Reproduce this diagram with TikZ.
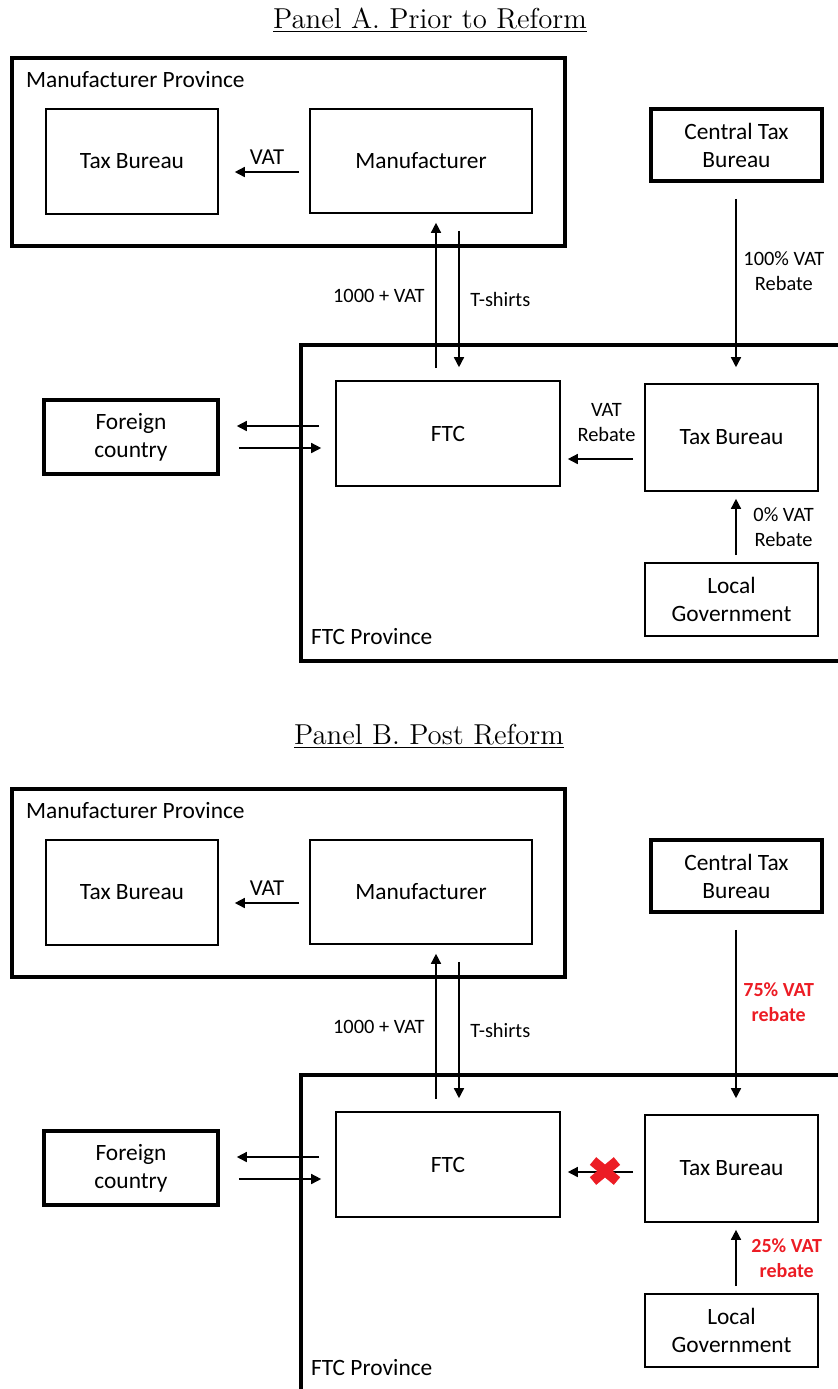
\documentclass[tikz,border=0pt]{standalone}
\usepackage{fontspec}
\newfontfamily\calibri{Carlito}
\usetikzlibrary{arrows.meta}
\definecolor{RebRed}{RGB}{236,28,36}

\begin{document}
\begin{tikzpicture}[x=0.5pt, y=-0.5pt,
    every node/.style={font=\calibri\fontsize{11.7}{14}\selectfont, align=center},
    unit/.style={draw, line width=0.8pt, rectangle},
    heavy/.style={draw, line width=1.8pt, rectangle},
    prov/.style={draw, line width=2.2pt, rectangle},
    flow/.style={font=\calibri\fontsize{10.2}{12.5}\selectfont},
    vatflow/.style={font=\calibri\fontsize{11.4}{14}\selectfont},
    redflow/.style={font=\calibri\bfseries\fontsize{10}{12.5}\selectfont, text=RebRed},
    arr/.style={-{Triangle[length=5pt,width=5pt]}, line width=0.75pt},
    xmark/.style={RebRed, line width=5pt},
    title/.style={font=\fontsize{14.4}{17}\selectfont, anchor=base}
  ]
  \useasboundingbox (0,0) rectangle (838,1389);
  \clip (0,0) rectangle (838,1389);

  % Panel A
  \node[title] (ttlA) at (430,28) {\underline{Panel A. Prior to Reform}};

  \node[prov, minimum width=276.5pt, minimum height=94pt] (mpA) at (288.5,152) {};
  \node[anchor=west] (mpAlbl) at (19,80) {Manufacturer Province};
  \node[unit, minimum width=86pt, minimum height=52.5pt] (tbA) at (132,161.5) {Tax Bureau};
  \node[unit, minimum width=111pt, minimum height=52pt] (mfA) at (421,161) {Manufacturer};
  \node[heavy, minimum width=85.5pt, minimum height=36pt] (ctA) at (736.5,145) {Central Tax\\Bureau};

  \node[prov, minimum width=279.5pt, minimum height=158pt] (fpA) at (580.5,503) {};
  \node[anchor=west] (fpAlbl) at (304,637) {FTC Province};
  \node[unit, minimum width=112pt, minimum height=52.5pt] (ftcA) at (448,433.5) {FTC};
  \node[unit, minimum width=86.5pt, minimum height=53.5pt] (tfA) at (731.5,437.5) {Tax Bureau};
  \node[unit, minimum width=86.5pt, minimum height=36.5pt] (lgA) at (731.5,599.5) {Local\\Government};
  \node[heavy, minimum width=87pt, minimum height=37pt] (fcA) at (131,437) {Foreign\\country};

  \draw[arr] ([shift={(-5pt,-5.5pt)}]mfA.west) -- ([shift={(8pt,-5.25pt)}]tbA.east)
        node[midway,above=0pt,vatflow]{VAT};
  \draw[arr] ([shift={(-6pt,6pt)}]ftcA.north) -- ([shift={(7.5pt,-4.5pt)}]mfA.south)
        node[midway,left=2pt,flow]{1000 + VAT};
  \draw[arr] ([shift={(19pt,-8.5pt)}]mfA.south) -- ([shift={(5.5pt,6.5pt)}]ftcA.north)
        node[midway,right=2pt,flow]{T-shirts};
  \draw[arr] ([shift={(-0.25pt,-8pt)}]ctA.south) -- ([shift={(2.25pt,8pt)}]tfA.north)
        node[pos=0.43,right=0pt,flow]{100\% VAT\\Rebate};
  \draw[arr] ([shift={(-5.5pt,-10.75pt)}]tfA.west) -- ([shift={(3.5pt,-12.75pt)}]ftcA.east)
        node[midway,above=5pt,xshift=3pt,flow]{VAT\\Rebate};
  \draw[arr] ([shift={(2.25pt,3.5pt)}]lgA.north) -- ([shift={(2.25pt,-3.5pt)}]tfA.south)
        node[midway,right=5pt,flow]{0\% VAT\\Rebate};
  \draw[arr] ([shift={(-8pt,3.75pt)}]ftcA.west) -- ([shift={(8.5pt,5.5pt)}]fcA.east);
  \draw[arr] ([shift={(9.5pt,-5.5pt)}]fcA.east) -- ([shift={(-7pt,-7.25pt)}]ftcA.west);

  % Panel B
  \node[title] (ttlB) at (429,744) {\underline{Panel B. Post Reform}};

  \begin{scope}[shift={(0,731)}]
    \node[prov, minimum width=276.5pt, minimum height=94pt] (mpB) at (288.5,152) {};
    \node[anchor=west] (mpBlbl) at (19,80) {Manufacturer Province};
    \node[unit, minimum width=86pt, minimum height=52.5pt] (tbB) at (132,161.5) {Tax Bureau};
    \node[unit, minimum width=111pt, minimum height=52pt] (mfB) at (421,161) {Manufacturer};
    \node[heavy, minimum width=85.5pt, minimum height=36pt] (ctB) at (736.5,145) {Central Tax\\Bureau};

    \node[prov, minimum width=279.5pt, minimum height=158pt] (fpB) at (580.5,502) {};
    \node[anchor=west] (fpBlbl) at (304,637) {FTC Province};
    \node[unit, minimum width=112pt, minimum height=52.5pt] (ftcB) at (448,433.5) {FTC};
    \node[unit, minimum width=86.5pt, minimum height=53.5pt] (tfB) at (731.5,437.5) {Tax Bureau};
    \node[unit, minimum width=86.5pt, minimum height=36.5pt] (lgB) at (731.5,599.5) {Local\\Government};
    \node[heavy, minimum width=87pt, minimum height=37pt] (fcB) at (131,437) {Foreign\\country};

    \draw[arr] ([shift={(-5pt,-5.5pt)}]mfB.west) -- ([shift={(8pt,-5.25pt)}]tbB.east)
          node[midway,above=0pt,vatflow]{VAT};
    \draw[arr] ([shift={(-6pt,6pt)}]ftcB.north) -- ([shift={(7.5pt,-4.5pt)}]mfB.south)
          node[midway,left=2pt,flow]{1000 + VAT};
    \draw[arr] ([shift={(19pt,-8.5pt)}]mfB.south) -- ([shift={(5.5pt,6.5pt)}]ftcB.north)
          node[midway,right=2pt,flow]{T-shirts};
    \draw[arr] ([shift={(-0.25pt,-8pt)}]ctB.south) -- ([shift={(2.25pt,8pt)}]tfB.north)
          node[pos=0.43,right=0pt,redflow]{75\% VAT\\rebate};
    \draw[arr] ([shift={(-5.5pt,-1.75pt)}]tfB.west) -- ([shift={(3.5pt,-3.75pt)}]ftcB.east);
    \draw[arr] ([shift={(2.25pt,3.5pt)}]lgB.north) -- ([shift={(2.25pt,-3.5pt)}]tfB.south)
          node[midway,right=4pt,redflow]{25\% VAT\\rebate};
    \draw[arr] ([shift={(-8pt,3.75pt)}]ftcB.west) -- ([shift={(8.5pt,5.5pt)}]fcB.east);
    \draw[arr] ([shift={(9.5pt,-5.5pt)}]fcB.east) -- ([shift={(-7pt,-7.25pt)}]ftcB.west);

    % rebate blocked
    \coordinate (stopB) at (605,440);
    \draw[xmark] ([shift={(-6pt,-5pt)}]stopB) -- ([shift={(6pt,5pt)}]stopB);
    \draw[xmark] ([shift={(-6pt,5pt)}]stopB) -- ([shift={(6pt,-5pt)}]stopB);
  \end{scope}
\end{tikzpicture}
\end{document}
